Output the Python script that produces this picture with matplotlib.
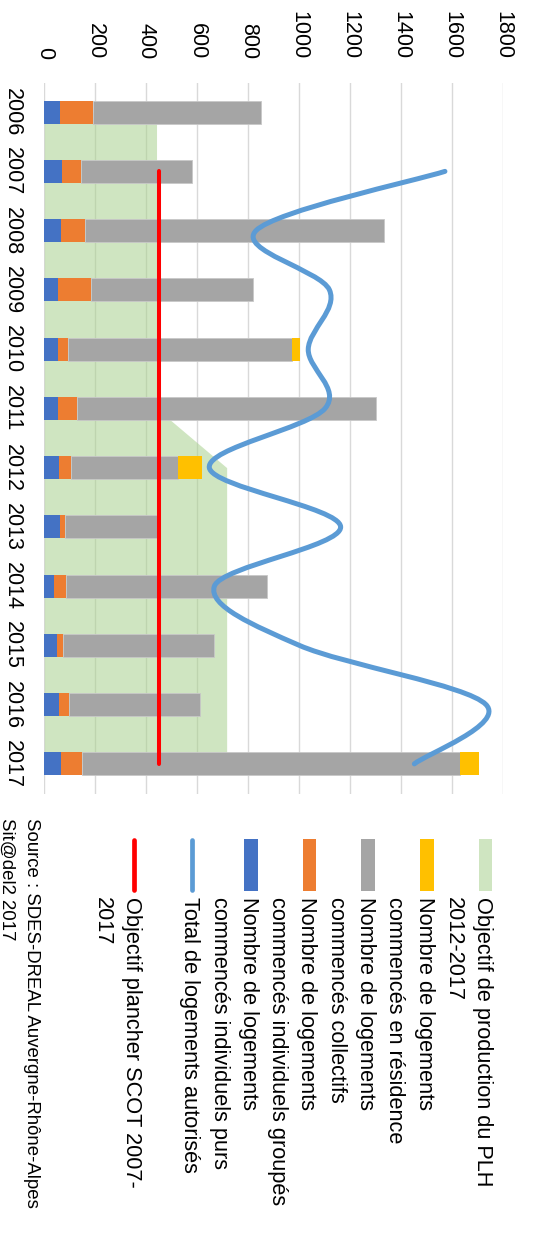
import numpy as np
import matplotlib
matplotlib.use('Agg')
import matplotlib.pyplot as plt
from matplotlib.path import Path
from matplotlib.patches import PathPatch, Rectangle

plt.rcParams['font.family'] = ['Liberation Sans', 'DejaVu Sans']

# données
years = [2006, 2007, 2008, 2009, 2010, 2011, 2012, 2013, 2014, 2015, 2016, 2017]
indiv_purs = [61, 69, 67, 54, 54, 54, 56, 61, 37, 51, 57, 65]
indiv_groupes = [128, 76, 94, 129, 38, 73, 50, 19, 47, 22, 38, 81]
collectifs = [662, 433, 1171, 634, 880, 1173, 418, 360, 788, 592, 514, 1485]
residence = [0, 0, 0, 0, 31, 0, 93, 0, 0, 0, 0, 75]
objectif_plh = [440, 440, 440, 440, 440, 440, 715, 715, 715, 715, 715, 715]
objectif_scot = [np.nan, 450, 450, 450, 450, 450, 450, 450, 450, 450, 450, 450]
total_autorises = [np.nan, 1571, 830, 1118, 1035, 1101, 647, 1162, 667, 1000, 1732, 1451]

legend_labels = [
    ["Objectif de production du PLH", "2012-2017"],
    ["Nombre de logements", "commencés en résidence"],
    ["Nombre de logements", "commencés collectifs"],
    ["Nombre de logements", "commencés individuels groupés"],
    ["Nombre de logements", "commencés individuels purs"],
    ["Total de logements autorisés"],
    ["Objectif plancher SCOT 2007-", "2017"],
]
source_lines = ["Source : SDES-DREAL Auvergne-Rhône-Alpes", "Sit@del2 2017"]

c_plh = '#A9D18E'
c_res = '#FFC000'
c_coll = '#A5A5A5'
c_grp = '#ED7D31'
c_pur = '#4472C4'
c_tot = '#5B9BD5'
c_scot = '#FF0000'

W, H = 534, 1247
fig = plt.figure(figsize=(W / 100, H / 100), dpi=100)
ax = fig.add_axes([44.33 / W, 1 - 793.5 / H, 459 / W, 711 / H])

pos = np.arange(len(years))

# zone objectif PLH
ax.fill_betweenx(pos, 0, objectif_plh, color=c_plh, alpha=0.55, lw=0, zorder=1)

# barres empilées
left = np.zeros(len(years))
for vals, col in [(indiv_purs, c_pur), (indiv_groupes, c_grp),
                  (collectifs, c_coll), (residence, c_res)]:
    vals = np.array(vals, dtype=float)
    keep = vals > 0
    ax.barh(pos[keep], vals[keep], left=left[keep], height=0.39, color=col, zorder=2,
            edgecolor='#C8C8C8' if col == c_coll else col,
            linewidth=0.6 if col == c_coll else 0)
    left += vals

# courbe lissée (style Excel)
pts = np.array([(v, p) for v, p in zip(total_autorises, pos) if not np.isnan(v)])
verts = [tuple(pts[0])]
codes = [Path.MOVETO]
n = len(pts)
for k in range(n - 1):
    p0 = pts[max(k - 1, 0)]
    p1 = pts[k]
    p2 = pts[k + 1]
    p3 = pts[min(k + 2, n - 1)]
    c1 = p1 + (p2 - p0) / 6
    c2 = p2 - (p3 - p1) / 6
    verts += [tuple(c1), tuple(c2), tuple(p2)]
    codes += [Path.CURVE4] * 3
ax.add_patch(PathPatch(Path(verts, codes), fc='none', ec=c_tot, lw=3.6,
                       capstyle='round', joinstyle='round', zorder=3))

# objectif SCOT
ax.plot(objectif_scot, pos, color=c_scot, lw=2.9, solid_capstyle='round', zorder=4)

ax.set_xlim(0, 1800)
ax.set_ylim(11.5, -0.5)
ax.set_xticks(range(0, 1801, 200))
ax.xaxis.tick_top()
ax.tick_params(axis='x', length=0, pad=17, labelsize=15.5, labelrotation=-90)
ax.set_yticks(pos, [str(y) for y in years])
ax.tick_params(axis='y', length=0, pad=15.5, labelsize=15.5, labelrotation=-90)
for t in ax.get_yticklabels():
    t.set_va('center')
ax.grid(axis='x', color='#D9D9D9', lw=1.0)
ax.set_axisbelow(True)
for s in ax.spines.values():
    s.set_visible(False)

# légende tournée, dessinée à la main
lax = fig.add_axes([0, 0, 1, 1])
lax.set_xlim(0, W)
lax.set_ylim(H, 0)
lax.axis('off')
lax.patch.set_visible(False)

styles = [('patch', c_plh), ('patch', c_res), ('patch', c_coll), ('patch', c_grp),
          ('patch', c_pur), ('line', c_tot), ('line', c_scot)]
for i, (lines, (kind, col)) in enumerate(zip(legend_labels, styles)):
    cx = 485.3 - i * 58.6
    if kind == 'patch':
        lax.add_patch(Rectangle((cx - 6.8, 839), 13.6, 52, color=col, lw=0,
                                alpha=0.55 if col == c_plh else 1))
    else:
        lax.plot([cx, cx], [840, 890], color=col, lw=3.4, solid_capstyle='round')
    for j, s in enumerate(lines):
        lax.text(cx - j * 29.3, 896.7, s, rotation=-90, rotation_mode='anchor',
                 ha='left', va='center_baseline', fontsize=15.7)

for j, s in enumerate(source_lines):
    lax.text(33.3 - j * 25, 818, s, rotation=-90, rotation_mode='anchor',
             ha='left', va='center_baseline', fontsize=13.4)

fig.savefig('out.png', dpi=100)
